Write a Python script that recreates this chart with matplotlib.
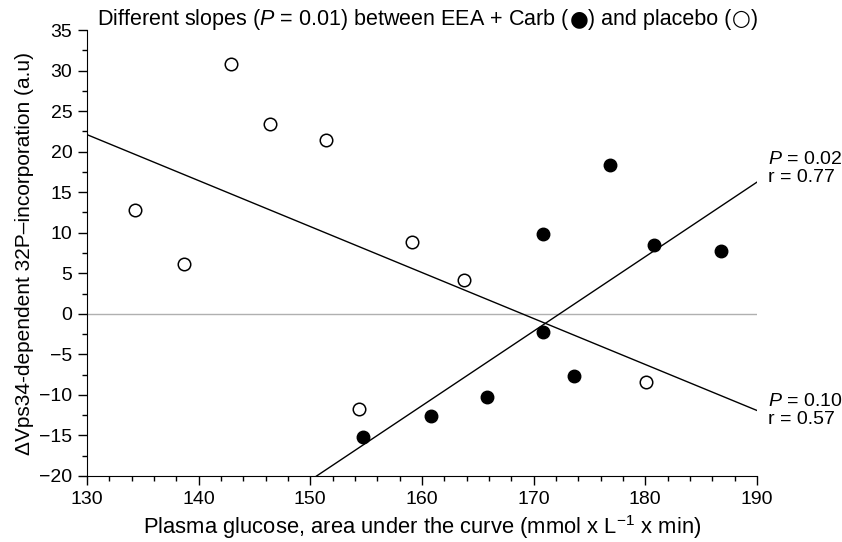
import numpy as np
import matplotlib
matplotlib.use("Agg")
import matplotlib.pyplot as plt
from matplotlib.ticker import MultipleLocator

plt.rcParams['font.family'] = ['Liberation Sans', 'DejaVu Sans']
plt.rcParams['mathtext.fontset'] = 'custom'
plt.rcParams['mathtext.rm'] = 'Liberation Sans'
plt.rcParams['mathtext.it'] = 'Liberation Sans:italic'

# placebo (open circles)
placebo_x = [134.3, 138.7, 142.9, 146.4, 151.4, 159.1, 163.8, 154.4, 180.1]
placebo_y = [12.8, 6.2, 30.8, 23.4, 21.4, 8.8, 4.2, -11.7, -8.4]
# EEA + Carb (filled circles)
carb_x = [154.7, 160.8, 165.8, 170.8, 173.6, 170.8, 176.8, 180.8, 186.8]
carb_y = [-15.2, -12.6, -10.3, -2.3, -7.7, 9.9, 18.3, 8.5, 7.7]

# regression lines: (slope, value at x = 130)
placebo_fit = (-0.567, 22.1)
carb_fit = (0.919, -38.9)

fig = plt.figure(figsize=(8.42, 5.42), dpi=100)
ax = fig.add_axes([0.1033, 0.1218, 0.7957, 0.8228])

xs = np.array([130, 190])
ax.axhline(0, color='#b0b0b0', lw=1.0, zorder=1)
ax.plot(xs, placebo_fit[1] + placebo_fit[0] * (xs - 130), color='black', lw=1.0, zorder=2)
ax.plot(xs, carb_fit[1] + carb_fit[0] * (xs - 130), color='black', lw=1.0, zorder=2)

ax.plot(placebo_x, placebo_y, 'o', ms=9, mfc='white', mec='black', mew=1.1, zorder=3)
ax.plot(carb_x, carb_y, 'o', ms=9, mfc='black', mec='black', zorder=3)

ax.set_xlim(130, 190)
ax.set_ylim(-20, 35)
ax.xaxis.set_major_locator(MultipleLocator(10))
ax.xaxis.set_minor_locator(MultipleLocator(2))
ax.yaxis.set_major_locator(MultipleLocator(5))
ax.yaxis.set_minor_locator(MultipleLocator(2.5))
ax.spines['top'].set_visible(False)
ax.spines['right'].set_visible(False)
ax.tick_params(which='major', length=6.5, width=1, labelsize=14, direction='out', pad=4)
ax.tick_params(which='minor', length=3.5, width=1, direction='out')

ax.set_xlabel('Plasma glucose, area under the curve (mmol x L$^{\\mathregular{\u22121}}$ x min)',
              fontsize=15.8, labelpad=4)
ax.set_ylabel('\u0394Vps34-dependent 32P\u2013incorporation (a.u)', fontsize=15, labelpad=4)

# title built from pieces so the circle symbols come from DejaVu Sans (larger glyphs)
pieces = [
    ('Different slopes ($P$ = 0.01) between EEA + Carb (', 'Liberation Sans'),
    ('\u25cf', 'DejaVu Sans'),
    (') and placebo (', 'Liberation Sans'),
    ('\u25cb', 'DejaVu Sans'),
    (')', 'Liberation Sans'),
]
texts = [fig.text(97 / 842, 1 - 25 / 542, pieces[0][0], fontsize=15.5,
                  family=pieces[0][1], va='baseline', ha='left')]
for txt, fam in pieces[1:]:
    texts.append(fig.text(0, 0, txt, fontsize=15.5, family=fam, va='baseline', ha='left'))
fig.canvas.draw()
renderer = fig.canvas.get_renderer()
x0 = texts[0].get_window_extent(renderer).x1
ybase = texts[0].get_position()[1]
for t in texts[1:]:
    t.set_position((x0 / fig.bbox.width, ybase))
    x0 = t.get_window_extent(renderer).x1

ax.text(1.017, 0.69, '$P$ = 0.02\nr = 0.77', transform=ax.transAxes,
        fontsize=14, va='center', ha='left', linespacing=1.1, clip_on=False)
ax.text(1.017, 0.147, '$P$ = 0.10\nr = 0.57', transform=ax.transAxes,
        fontsize=14, va='center', ha='left', linespacing=1.1, clip_on=False)

fig.savefig('out.png', dpi=100)
